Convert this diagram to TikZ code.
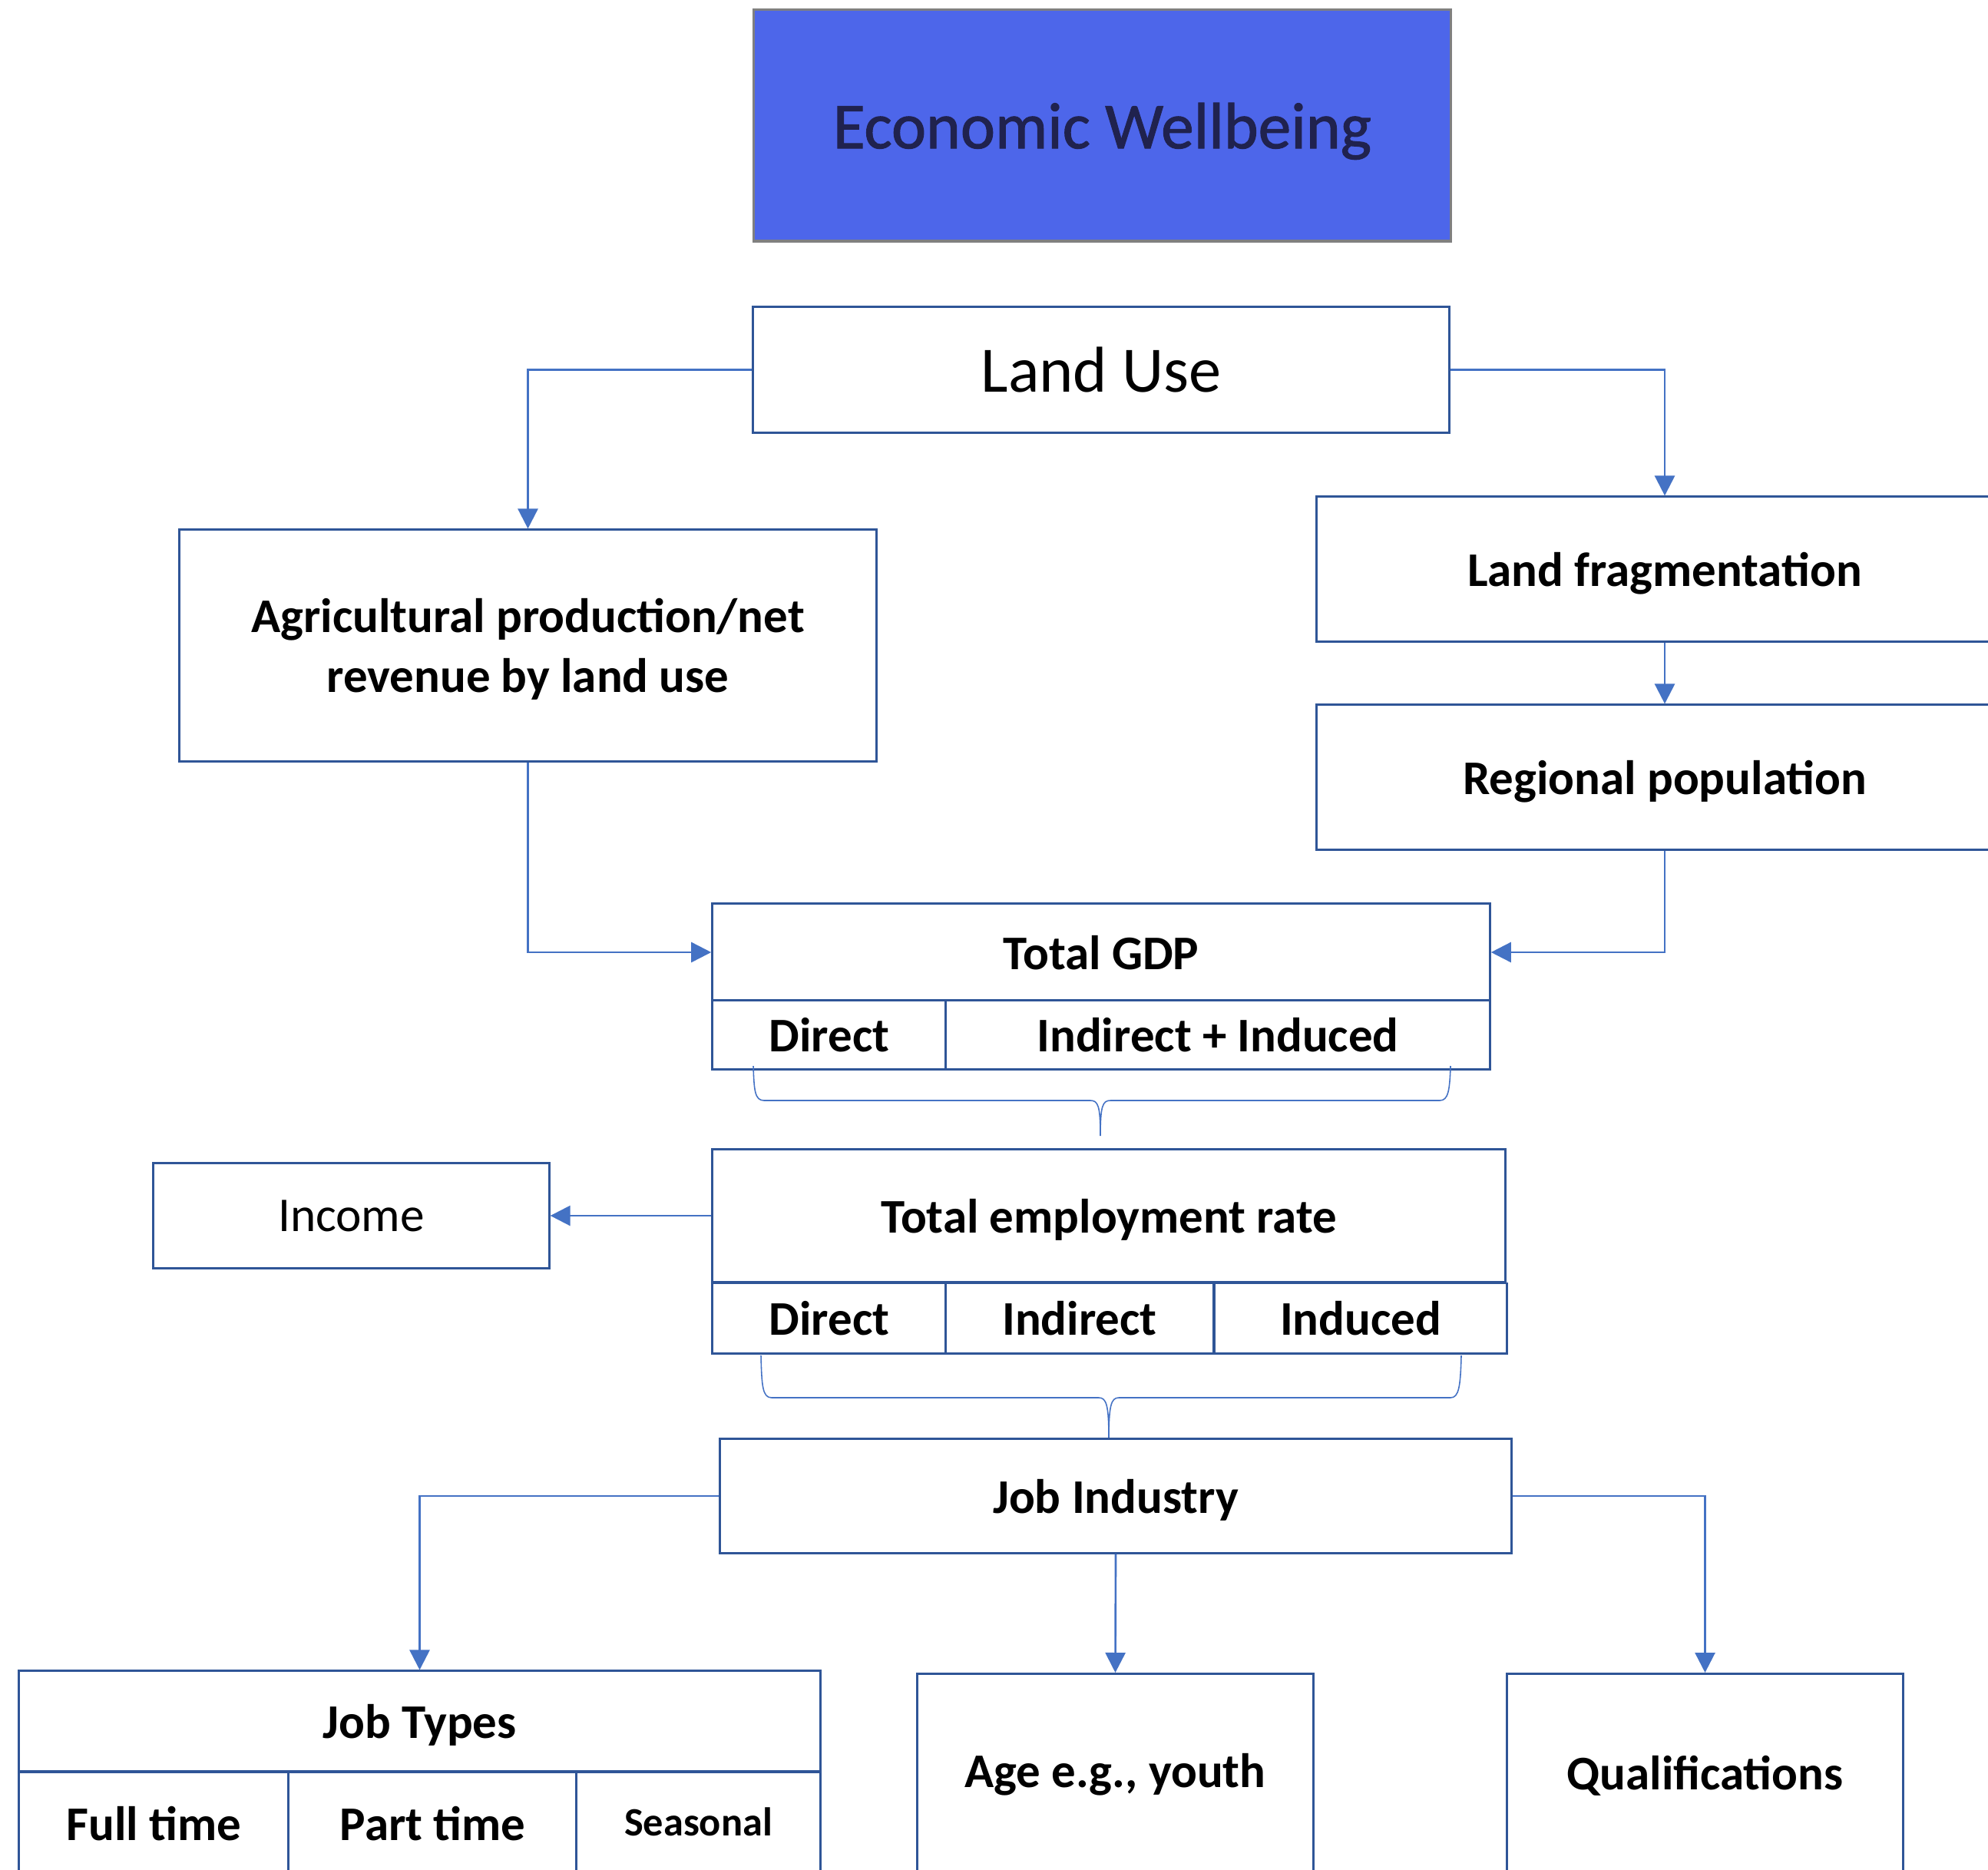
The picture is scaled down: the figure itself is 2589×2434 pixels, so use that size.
\documentclass[tikz,border=0pt]{standalone}
\usepackage{fontspec}
\setmainfont{Carlito}
\newfontface\ewfont{Carlito}[FakeBold=1.2]
\usetikzlibrary{arrows.meta}
\definecolor{boxline}{RGB}{47,85,151}
\definecolor{arrowc}{RGB}{68,114,196}
\definecolor{ewfill}{RGB}{77,102,234}
\definecolor{ewtext}{RGB}{32,34,78}
\tikzset{
  box/.style={draw=boxline,line width=0.85pt,fill=white,rectangle,inner sep=0pt,align=center,text depth=0pt,font=\fontsize{17.9}{21.5}\selectfont\bfseries},
  lbl/.style={inner sep=0pt,text depth=0pt,font=\fontsize{17.9}{21.5}\selectfont\bfseries},
  conn/.style={draw=arrowc,line width=0.75pt,-{Triangle[length=7.4pt,width=7.4pt]}},
  bracec/.style={draw=arrowc,line width=0.45pt},
}
\begin{document}
\begin{tikzpicture}[x=0.01cm,y=-0.01cm]
\useasboundingbox (0,0) rectangle (2589,2434);
\clip (0,0) rectangle (2589,2434);
% Economic Wellbeing
\node[draw=gray,line width=0.9pt,fill=ewfill,minimum width=9.07cm,minimum height=3.01cm,inner sep=0pt,text depth=0pt,font=\ewfont\fontsize{24.3}{28}\selectfont,text=ewtext] (ew) at (1435.5,163.5) {Economic Wellbeing};
% Land Use
\node[box,minimum width=9.06cm,minimum height=1.63cm,font=\fontsize{24}{29}\selectfont] (lu) at (1434,481.5) {Land Use};
% Agricultural
\node[box,minimum width=9.07cm,minimum height=3.01cm,font=\fontsize{17.9}{22.1}\selectfont\bfseries] (agri) at (687.5,840.5) {Agricultural production/net\\revenue by land use};
% Land fragmentation, regional population
\node[box,minimum width=9.06cm,minimum height=1.88cm] (frag) at (2168,741) {Land fragmentation};
\node[box,minimum width=9.06cm,minimum height=1.88cm] (reg) at (2168,1012) {Regional population};
% Total GDP
\node[box,minimum width=10.12cm,minimum height=1.26cm] (gdp) at (1434,1240) {Total GDP};
\node[box,minimum width=3.04cm,minimum height=0.89cm] (gdpd) at (1080,1347.5) {Direct};
\node[box,minimum width=7.08cm,minimum height=0.89cm] (gdpi) at (1586,1347.5) {Indirect + Induced};
% GDP brace
\coordinate (b1s) at (981,1388);
\coordinate (b1e) at (1889,1388);
\coordinate (b1t) at (1433,1479);
\draw[bracec] (b1s) .. controls (982,1420) and (983,1433) .. (995,1433) -- (1420,1433) .. controls (1430,1433) and (1433,1440) .. (b1t)
  .. controls (1433,1440) and (1436,1433) .. (1446,1433) -- (1875,1433) .. controls (1886,1433) and (1888,1420) .. (b1e);
% Total employment
\node[box,minimum width=10.32cm,minimum height=1.72cm] (emp) at (1444,1583) {Total employment rate};
\node[box,minimum width=3.04cm,minimum height=0.91cm] (empd) at (1080,1716.5) {Direct};
\node[box,minimum width=3.48cm,minimum height=0.91cm] (empi) at (1406,1716.5) {Indirect};
\node[box,minimum width=3.80cm,minimum height=0.91cm] (empn) at (1772,1716.5) {Induced};
% Employment brace
\coordinate (b2s) at (991,1765);
\coordinate (b2e) at (1903,1765);
\coordinate (b2t) at (1444,1874);
\draw[bracec] (b2s) .. controls (992,1805) and (993,1820) .. (1005,1820) -- (1431,1820) .. controls (1441,1820) and (1444,1830) .. (b2t)
  .. controls (1444,1830) and (1447,1820) .. (1457,1820) -- (1889,1820) .. controls (1900,1820) and (1902,1805) .. (b2e);
% Income
\node[box,minimum width=5.15cm,minimum height=1.37cm,font=\fontsize{18}{21.5}\selectfont] (inc) at (457.5,1583) {Income};
% Job Industry
\node[box,minimum width=10.30cm,minimum height=1.48cm] (ji) at (1453,1948) {Job Industry};
% Job Types
\node[box,minimum width=10.43cm,minimum height=1.30cm] (jt) at (546.5,2241) {Job Types};
\node[box,minimum width=3.51cm,minimum height=1.54cm,anchor=north] (ft) at (200.5,2306) {};
\node[box,minimum width=3.75cm,minimum height=1.54cm,anchor=north] (pt) at (563.5,2306) {};
\node[box,minimum width=3.17cm,minimum height=1.54cm,anchor=north] (se) at (909.5,2306) {};
\node[lbl] (ftl) at (200.5,2374) {Full time};
\node[lbl] (ptl) at (563.5,2374) {Part time};
\node[lbl,font=\fontsize{14.9}{18}\selectfont\bfseries] (sel) at (909.5,2372) {Seasonal};
% Age, Qualifications
\node[box,minimum width=5.15cm,minimum height=2.82cm,anchor=north] (age) at (1452.5,2178) {};
\node[lbl] (agel) at (1452.5,2305) {Age e.g., youth};
\node[box,minimum width=5.15cm,minimum height=2.82cm,anchor=north] (qual) at (2220.5,2178) {};
\node[lbl] (quall) at (2220.5,2308) {Qualifications};
% Connectors
\draw[conn] (lu.west) -| (agri.north);
\draw[conn] (lu.east) -| (frag.north);
\draw[conn] (frag.south) -- (reg.north);
\draw[conn] (agri.south) |- (gdp.west);
\draw[conn] (reg.south) |- (gdp.east);
\draw[conn] (emp.west) -- (inc.east);
\draw[conn] (ji.west) -| (jt.north);
\draw[conn] (ji.south) -- (age.north);
\draw[conn] (ji.east) -| (qual.north);
\end{tikzpicture}
\end{document}
